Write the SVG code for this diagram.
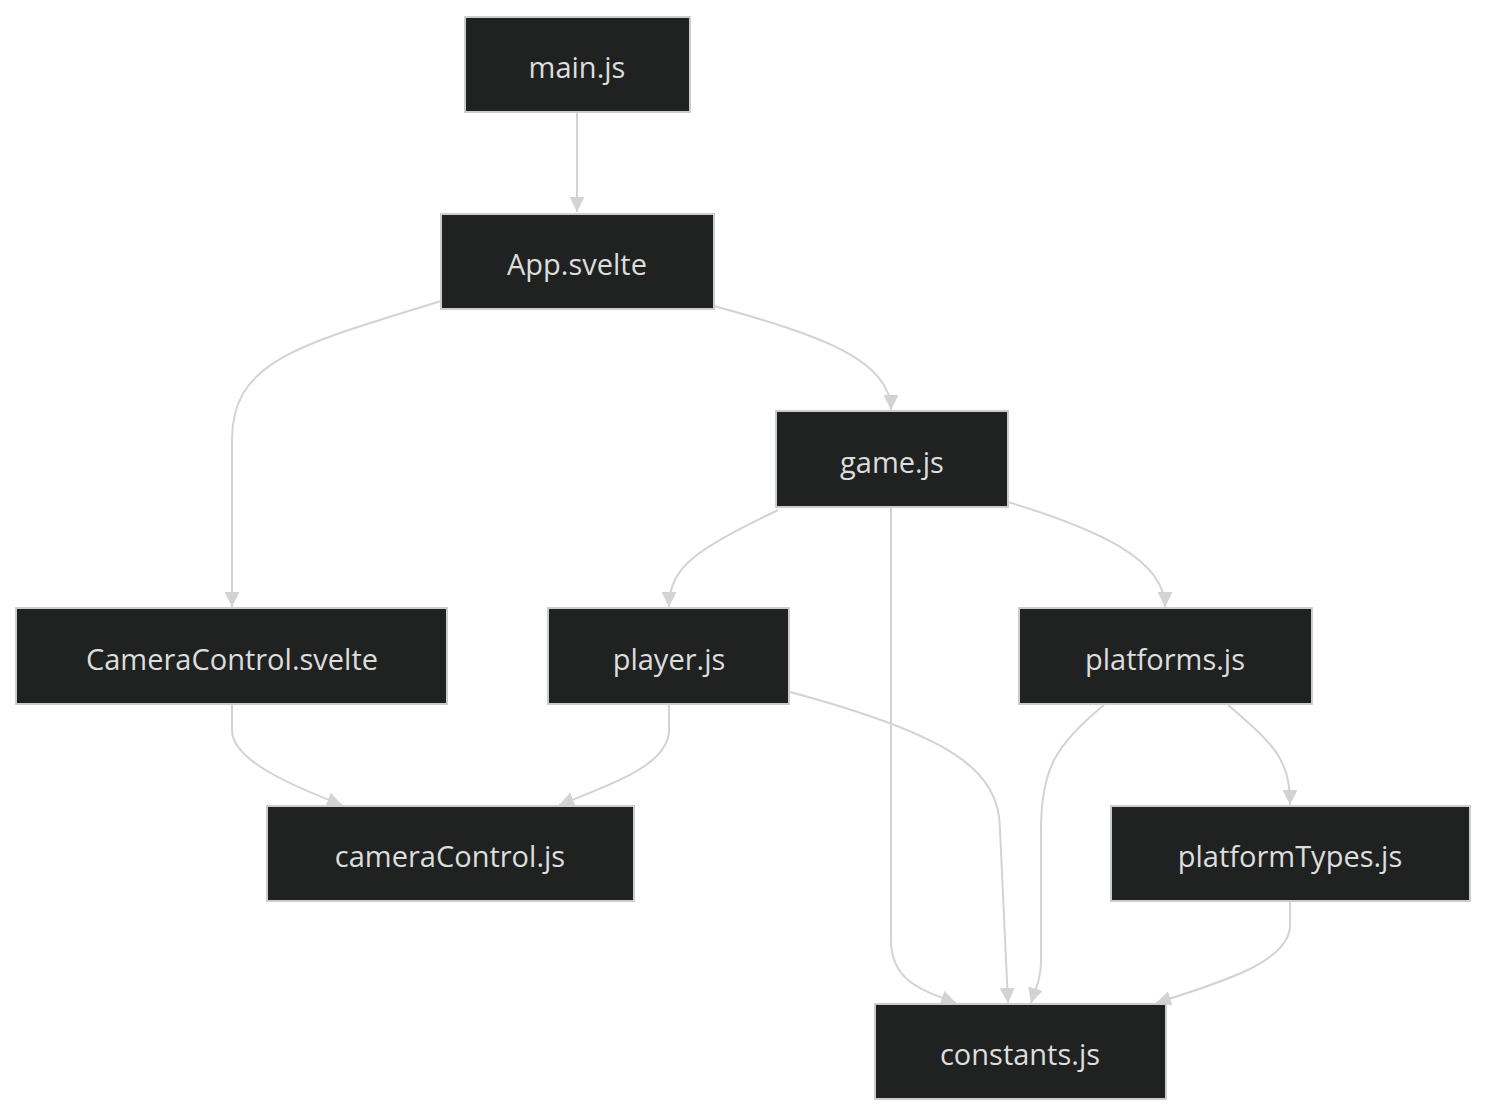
<svg xmlns="http://www.w3.org/2000/svg" width="1488" height="1116" viewBox="0 0 1488 1116">
<style>
.n rect{fill:#202221;stroke:#cccccc;stroke-width:2}
.n text{fill:#dddddd;font-family:"Open Sans","Liberation Sans",sans-serif;font-size:29px;text-anchor:middle;dominant-baseline:central}
.e path{fill:none;stroke:#d3d3d3;stroke-width:2;marker-end:url(#a)}
</style>
<defs><marker id="a" markerUnits="userSpaceOnUse" viewBox="0 0 10 10" refX="10" refY="5" markerWidth="15" markerHeight="15" orient="auto"><path d="M0,0L10,5L0,10z" fill="#d3d3d3"/></marker></defs>
<rect width="1488" height="1116" fill="#ffffff"/>
<g class="e">
<path d="M577,113L577,212"/>
<path d="M441,301C300,345 232,360 232,440L232,607"/>
<path d="M714,306C820,335 891,360 891,410"/>
<path d="M778,510C700,548 669,565 669,607"/>
<path d="M891,508L891,940C891,980 920,990 956,1003"/>
<path d="M1008,502C1100,530 1165,560 1165,607"/>
<path d="M232,705L232,730C232,760 290,785 342,805"/>
<path d="M669,705L669,730C669,765 610,785 559,805"/>
<path d="M790,692C950,735 1000,770 1000,830L1008,1003"/>
<path d="M1104,705C1055,745 1041,770 1041,830L1041,960C1041,980 1035,990 1031,1003"/>
<path d="M1228,705C1275,745 1290,760 1290,805"/>
<path d="M1290,902L1290,925C1290,960 1230,980 1156,1003"/>
</g>
<g id="main" class="n"><rect x="465" y="17" width="225" height="95"/><text x="577" y="66">main.js</text></g>
<g id="app" class="n"><rect x="441" y="214" width="273" height="95"/><text x="577" y="263">App.svelte</text></g>
<g id="game" class="n"><rect x="776" y="411" width="232" height="96"/><text x="892" y="461">game.js</text></g>
<g id="cc" class="n"><rect x="16" y="608" width="431" height="96"/><text x="232" y="658">CameraControl.svelte</text></g>
<g id="player" class="n"><rect x="548" y="608" width="241" height="96"/><text x="669" y="658">player.js</text></g>
<g id="platforms" class="n"><rect x="1019" y="608" width="293" height="96"/><text x="1165" y="658">platforms.js</text></g>
<g id="ccjs" class="n"><rect x="267" y="806" width="367" height="95"/><text x="450" y="855">cameraControl.js</text></g>
<g id="pt" class="n"><rect x="1111" y="806" width="359" height="95"/><text x="1290" y="855">platformTypes.js</text></g>
<g id="constants" class="n"><rect x="875" y="1004" width="291" height="95"/><text x="1020" y="1053">constants.js</text></g>
</svg>
